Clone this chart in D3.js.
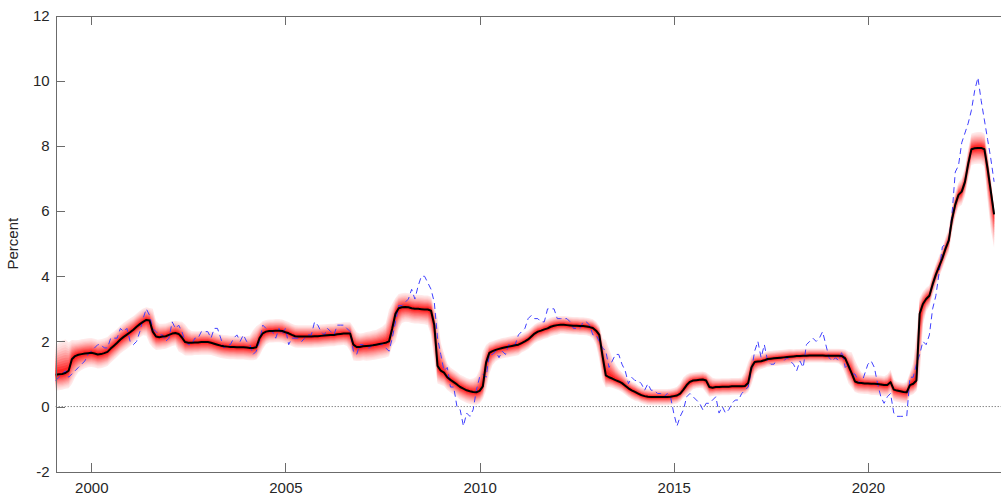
<!DOCTYPE html>
<html>
<head>
<meta charset="utf-8">
<script src="https://cdn.jsdelivr.net/npm/d3@7"></script>
<style>
  body { margin: 0; background: #fff; }
  .chart text { font-family: "Liberation Sans", Arial, sans-serif; fill: #262626; }
</style>
</head>
<body>
<div class="chart"></div>
<script>
// monthly data, Jan 1999 .. Mar 2023 (points sit at month end)
const startYear = 1999

const xTicks = [2000, 2005, 2010, 2015, 2020]
const yTicks = [-2, 0, 2, 4, 6, 8, 10, 12]

// observed inflation (blue dashed)
const actual = [
  0.8, 0.9, 1.0, 1.1, 0.9, 1.0, 1.1, 1.2, 1.3, 1.4, 1.6, 1.7,
  1.8, 1.9, 1.9, 1.8, 1.8, 2.1, 2.1, 2.1, 2.4, 2.3, 2.4, 2.0,
  1.9, 2.0, 2.3, 2.7, 3.0, 2.8, 2.4, 2.3, 2.2, 2.2, 2.0, 2.1,
  2.6, 2.4, 2.5, 2.3, 2.0, 1.9, 1.9, 2.1, 2.1, 2.3, 2.3, 2.3,
  2.1, 2.4, 2.4, 2.1, 1.8, 1.9, 1.9, 2.1, 2.2, 2.0, 2.2, 2.0,
  1.9, 1.6, 1.7, 2.0, 2.5, 2.4, 2.3, 2.3, 2.1, 2.4, 2.2, 2.4,
  1.9, 2.1, 2.1, 2.1, 2.0, 2.1, 2.2, 2.2, 2.6, 2.5, 2.3, 2.2,
  2.4, 2.3, 2.2, 2.5, 2.5, 2.5, 2.4, 2.3, 1.7, 1.6, 1.9, 1.9,
  1.8, 1.8, 1.9, 1.9, 1.9, 1.9, 1.8, 1.7, 2.1, 2.6, 3.1, 3.1,
  3.2, 3.3, 3.6, 3.3, 3.7, 4.0, 4.0, 3.8, 3.6, 3.2, 2.1, 1.6,
  1.1, 1.2, 0.6, 0.6, 0.0, -0.1, -0.6, -0.2, -0.3, -0.1, 0.5, 0.9,
  1.0, 0.9, 1.6, 1.6, 1.7, 1.5, 1.7, 1.6, 1.9, 1.9, 1.9, 2.2,
  2.3, 2.4, 2.7, 2.8, 2.7, 2.7, 2.6, 2.6, 3.0, 3.0, 3.0, 2.7,
  2.7, 2.7, 2.7, 2.6, 2.4, 2.4, 2.4, 2.6, 2.6, 2.5, 2.2, 2.2,
  2.0, 1.8, 1.7, 1.2, 1.4, 1.6, 1.6, 1.3, 1.1, 0.7, 0.9, 0.8,
  0.8, 0.7, 0.5, 0.7, 0.5, 0.5, 0.4, 0.4, 0.3, 0.4, 0.3, -0.2,
  -0.6, -0.3, -0.1, 0.3, 0.4, 0.3, 0.2, 0.1, -0.1, 0.1, 0.1, 0.2,
  0.3, -0.2, 0.0, -0.2, -0.1, 0.1, 0.2, 0.2, 0.4, 0.5, 0.6, 1.1,
  1.7, 2.0, 1.5, 1.9, 1.4, 1.3, 1.3, 1.5, 1.5, 1.4, 1.5, 1.4,
  1.3, 1.1, 1.4, 1.2, 1.9, 2.0, 2.1, 2.0, 2.1, 2.3, 1.9, 1.5,
  1.4, 1.5, 1.4, 1.7, 1.2, 1.3, 1.0, 1.0, 0.8, 0.7, 1.0, 1.3,
  1.4, 1.2, 0.7, 0.3, 0.1, 0.3, 0.4, -0.2, -0.3, -0.3, -0.3, -0.3,
  0.9, 0.9, 1.3, 1.6, 2.0, 1.9, 2.2, 3.0, 3.4, 4.1, 4.9, 5.0,
  5.1, 5.9, 7.2, 7.4, 8.1, 8.4, 8.7, 9.1, 9.7, 10.1, 9.4, 8.8,
  8.2, 7.6, 6.9
]

// median estimate (black line)
const median = [
  0.98, 0.99, 1.0, 1.03, 1.1, 1.45, 1.55, 1.59, 1.61, 1.63, 1.64, 1.65,
  1.63, 1.6, 1.61, 1.64, 1.68, 1.78, 1.87, 1.96, 2.06, 2.14, 2.21, 2.28,
  2.36, 2.45, 2.53, 2.6, 2.66, 2.64, 2.3, 2.15, 2.13, 2.15, 2.16, 2.2,
  2.24, 2.26, 2.23, 2.12, 1.98, 1.96, 1.96, 1.97, 1.97, 1.98, 1.98, 1.98,
  1.96, 1.93, 1.9, 1.87, 1.85, 1.84, 1.83, 1.83, 1.82, 1.82, 1.82, 1.81,
  1.8, 1.8, 1.82, 2.1, 2.25, 2.3, 2.32, 2.32, 2.33, 2.33, 2.32, 2.28,
  2.25, 2.2, 2.16, 2.15, 2.15, 2.15, 2.15, 2.15, 2.16, 2.16, 2.17, 2.18,
  2.19, 2.2, 2.2, 2.22, 2.23, 2.24, 2.24, 2.24, 1.9, 1.83, 1.83, 1.85,
  1.86, 1.87, 1.88, 1.9, 1.92, 1.94, 1.96, 2.0, 2.4, 2.85, 3.02, 3.05,
  3.06, 3.05, 3.02, 3.0, 3.0, 2.99, 2.98, 2.98, 2.94, 2.5, 1.25, 1.1,
  1.04, 0.9, 0.82, 0.75, 0.68, 0.6, 0.55, 0.5, 0.47, 0.45, 0.44, 0.48,
  0.62, 1.35, 1.65, 1.7, 1.74, 1.77, 1.8, 1.82, 1.84, 1.86, 1.88, 1.9,
  1.95, 2.0, 2.06, 2.15, 2.24, 2.3, 2.33, 2.37, 2.4, 2.45, 2.48, 2.5,
  2.51, 2.51, 2.5, 2.49, 2.48, 2.48, 2.47, 2.47, 2.46, 2.44, 2.41, 2.33,
  2.2, 1.55, 0.96, 0.9, 0.86, 0.81, 0.77, 0.72, 0.64, 0.56, 0.5, 0.45,
  0.4, 0.35, 0.32, 0.3, 0.29, 0.29, 0.29, 0.29, 0.29, 0.29, 0.3, 0.32,
  0.34, 0.4, 0.52, 0.66, 0.76, 0.8, 0.81, 0.82, 0.83, 0.8, 0.6, 0.58,
  0.6, 0.6, 0.61, 0.61, 0.61, 0.62, 0.62, 0.62, 0.62, 0.63, 0.72, 1.2,
  1.37, 1.38, 1.39, 1.42, 1.46, 1.47, 1.48, 1.49, 1.5, 1.51, 1.52, 1.53,
  1.54, 1.55, 1.55, 1.56, 1.56, 1.57, 1.57, 1.57, 1.57, 1.57, 1.56, 1.56,
  1.56, 1.56, 1.56, 1.55, 1.48, 1.25, 1.02, 0.77, 0.73, 0.72, 0.71, 0.71,
  0.7, 0.7, 0.69, 0.68, 0.66, 0.66, 0.75, 0.52, 0.49, 0.47, 0.45, 0.44,
  0.66, 0.7, 0.8, 2.85, 3.15, 3.3, 3.4, 3.75, 4.05, 4.3, 4.55, 4.85,
  5.1, 5.75, 6.2, 6.5, 6.6, 6.9, 7.45, 7.9, 7.93, 7.94, 7.94, 7.9,
  7.3, 6.6, 5.9
]

// outer band distance above / below the median
const spreadUp = [
  0.85, 0.9, 0.95, 0.95, 0.8, 0.55, 0.45, 0.42, 0.42, 0.42, 0.42, 0.42,
  0.42, 0.42, 0.42, 0.42, 0.42, 0.42, 0.4, 0.4, 0.4, 0.4, 0.4, 0.4,
  0.38, 0.38, 0.38, 0.38, 0.36, 0.36, 0.65, 0.45, 0.38, 0.36, 0.36, 0.36,
  0.35, 0.35, 0.35, 0.45, 0.5, 0.4, 0.33, 0.32, 0.32, 0.32, 0.32, 0.32,
  0.32, 0.32, 0.32, 0.32, 0.32, 0.32, 0.32, 0.32, 0.32, 0.32, 0.32, 0.32,
  0.35, 0.5, 0.6, 0.4, 0.35, 0.33, 0.33, 0.33, 0.33, 0.33, 0.33, 0.33,
  0.32, 0.32, 0.32, 0.32, 0.32, 0.32, 0.32, 0.32, 0.32, 0.32, 0.32, 0.32,
  0.32, 0.32, 0.32, 0.32, 0.32, 0.32, 0.32, 0.32, 0.5, 0.42, 0.38, 0.38,
  0.4, 0.4, 0.42, 0.42, 0.45, 0.48, 0.55, 0.9, 0.7, 0.45, 0.4, 0.4,
  0.4, 0.4, 0.4, 0.4, 0.4, 0.4, 0.4, 0.4, 0.4, 0.5, 1.4, 0.8,
  0.55, 0.4, 0.35, 0.35, 0.35, 0.35, 0.35, 0.35, 0.35, 0.38, 0.45, 0.6,
  1.0, 0.5, 0.3, 0.28, 0.28, 0.28, 0.28, 0.28, 0.28, 0.28, 0.28, 0.28,
  0.26, 0.26, 0.26, 0.26, 0.26, 0.26, 0.26, 0.26, 0.26, 0.26, 0.26, 0.26,
  0.25, 0.25, 0.25, 0.25, 0.25, 0.25, 0.25, 0.25, 0.25, 0.25, 0.25, 0.25,
  0.25, 0.5, 1.0, 0.8, 0.6, 0.45, 0.35, 0.3, 0.28, 0.26, 0.25, 0.25,
  0.23, 0.23, 0.23, 0.23, 0.23, 0.23, 0.23, 0.23, 0.23, 0.23, 0.23, 0.23,
  0.25, 0.3, 0.35, 0.3, 0.25, 0.23, 0.23, 0.23, 0.23, 0.23, 0.35, 0.28,
  0.24, 0.24, 0.24, 0.24, 0.24, 0.24, 0.24, 0.24, 0.25, 0.4, 0.6, 0.35,
  0.22, 0.22, 0.22, 0.22, 0.22, 0.22, 0.22, 0.22, 0.22, 0.22, 0.22, 0.22,
  0.2, 0.2, 0.2, 0.2, 0.2, 0.2, 0.2, 0.2, 0.2, 0.2, 0.2, 0.2,
  0.2, 0.2, 0.2, 0.2, 0.25, 0.4, 0.6, 0.6, 0.45, 0.3, 0.26, 0.25,
  0.25, 0.25, 0.25, 0.25, 0.25, 0.3, 0.35, 0.28, 0.25, 0.25, 0.25, 0.3,
  0.35, 0.6, 1.3, 0.45, 0.35, 0.32, 0.3, 0.3, 0.3, 0.3, 0.3, 0.32,
  0.33, 0.35, 0.35, 0.35, 0.38, 0.4, 0.42, 0.45, 0.45, 0.45, 0.45, 0.45,
  0.45, 0.35, 0.2
]

const spreadDown = [
  0.45, 0.45, 0.45, 0.45, 0.5, 0.7, 0.6, 0.5, 0.45, 0.42, 0.4, 0.4,
  0.4, 0.4, 0.4, 0.4, 0.4, 0.4, 0.4, 0.4, 0.4, 0.4, 0.4, 0.4,
  0.38, 0.38, 0.38, 0.38, 0.45, 0.65, 0.45, 0.38, 0.36, 0.36, 0.36, 0.36,
  0.35, 0.35, 0.5, 0.45, 0.38, 0.36, 0.36, 0.36, 0.36, 0.36, 0.36, 0.36,
  0.35, 0.35, 0.35, 0.35, 0.35, 0.35, 0.35, 0.35, 0.35, 0.35, 0.35, 0.35,
  0.35, 0.35, 0.35, 0.5, 0.45, 0.36, 0.33, 0.33, 0.33, 0.33, 0.33, 0.33,
  0.32, 0.32, 0.32, 0.32, 0.32, 0.32, 0.32, 0.32, 0.32, 0.32, 0.32, 0.32,
  0.32, 0.32, 0.32, 0.32, 0.32, 0.32, 0.35, 0.5, 0.45, 0.4, 0.4, 0.4,
  0.42, 0.42, 0.42, 0.42, 0.42, 0.42, 0.42, 0.42, 0.5, 0.8, 0.6, 0.45,
  0.42, 0.42, 0.42, 0.42, 0.42, 0.42, 0.42, 0.45, 0.7, 1.0, 0.5, 0.4,
  0.38, 0.36, 0.36, 0.36, 0.36, 0.36, 0.36, 0.36, 0.36, 0.36, 0.36, 0.36,
  0.36, 0.8, 0.6, 0.4, 0.32, 0.3, 0.3, 0.3, 0.3, 0.3, 0.3, 0.3,
  0.27, 0.27, 0.27, 0.27, 0.27, 0.27, 0.27, 0.27, 0.27, 0.27, 0.27, 0.27,
  0.25, 0.25, 0.25, 0.25, 0.25, 0.25, 0.25, 0.25, 0.25, 0.26, 0.3, 0.4,
  0.7, 0.7, 0.35, 0.28, 0.26, 0.25, 0.25, 0.25, 0.25, 0.25, 0.25, 0.25,
  0.23, 0.23, 0.23, 0.23, 0.23, 0.23, 0.23, 0.23, 0.23, 0.23, 0.23, 0.23,
  0.23, 0.23, 0.23, 0.3, 0.3, 0.25, 0.23, 0.23, 0.25, 0.35, 0.28, 0.24,
  0.24, 0.24, 0.24, 0.24, 0.24, 0.24, 0.24, 0.24, 0.24, 0.24, 0.25, 0.5,
  0.35, 0.25, 0.22, 0.22, 0.22, 0.22, 0.22, 0.22, 0.22, 0.22, 0.22, 0.22,
  0.2, 0.2, 0.2, 0.2, 0.2, 0.2, 0.2, 0.2, 0.2, 0.2, 0.2, 0.2,
  0.2, 0.2, 0.22, 0.3, 0.45, 0.5, 0.4, 0.3, 0.3, 0.3, 0.3, 0.3,
  0.32, 0.32, 0.32, 0.32, 0.32, 0.32, 0.32, 0.32, 0.32, 0.32, 0.32, 0.32,
  0.3, 0.3, 0.3, 1.8, 0.6, 0.35, 0.3, 0.3, 0.3, 0.3, 0.3, 0.32,
  0.33, 0.35, 0.35, 0.35, 0.38, 0.4, 0.42, 0.45, 0.45, 0.45, 0.45, 0.5,
  0.9, 1.1, 0.95
]

let outerWidth = 1001
let outerHeight = 498
let margin = {top: 15.7, bottom: 26.3, left: 55.7, right: -2.8}
let width = outerWidth - margin.left - margin.right
let height = outerHeight - margin.top - margin.bottom

let data = median.map((m, i) => ({
    t: startYear + (i + 1) / 12,
    med: m,
    obs: actual[i],
    up: spreadUp[i],
    down: spreadDown[i]
}))

let svg = d3.select(".chart")
    .append("svg")
    .attr("width", outerWidth)
    .attr("height", outerHeight)
    .append("g")
    .attr("transform", `translate(${margin.left}, ${margin.top})`)

// Scales
let xScale = d3.scaleLinear()
    .domain([startYear + 1 / 12, 2023.5])
    .range([0, width])

let yScale = d3.scaleLinear()
    .domain([-2, 12])
    .range([height, 0])

// Fan (outer layers first, redder towards the median)
let nLayers = 12
let fanColor = d3.interpolateRgb("#ffeaea", "#ff2626")
for (let k = 0; k < nLayers; k++) {
    let f = 1.08 - k / nLayers
    let area = d3.area()
        .x(d => xScale(d.t))
        .y0(d => yScale(d.med - d.down * f))
        .y1(d => yScale(d.med + d.up * f))
    svg.append("path")
        .datum(data)
        .attr("d", area)
        .attr("fill", fanColor(Math.pow(k / (nLayers - 1), 1.3)))
}

// Zero line
svg.append("line")
    .attr("x1", 0)
    .attr("x2", width)
    .attr("y1", yScale(0))
    .attr("y2", yScale(0))
    .attr("stroke", "#555")
    .attr("stroke-width", 1)
    .attr("stroke-dasharray", "1,2")

// Observed (blue dashed)
svg.append("path")
    .datum(data)
    .attr("d", d3.line().x(d => xScale(d.t)).y(d => yScale(d.obs)))
    .attr("fill", "none")
    .attr("stroke", "#3f3fff")
    .attr("stroke-width", 1)
    .attr("stroke-dasharray", "6,4")

// Median (black)
svg.append("path")
    .datum(data)
    .attr("d", d3.line().x(d => xScale(d.t)).y(d => yScale(d.med)))
    .attr("fill", "none")
    .attr("stroke", "#000")
    .attr("stroke-width", 2)
    .attr("stroke-linejoin", "round")

// Axes
const xAxis = d3.axisBottom(xScale)
    .tickValues(xTicks)
    .tickFormat(d => String(d))
    .tickSizeInner(-9)
    .tickSizeOuter(0)
    .tickPadding(11)

const xAxisTop = d3.axisTop(xScale)
    .tickValues(xTicks)
    .tickFormat("")
    .tickSizeInner(-9)
    .tickSizeOuter(0)

const yAxis = d3.axisLeft(yScale)
    .tickValues(yTicks)
    .tickFormat(d => String(d))
    .tickSizeInner(-9)
    .tickSizeOuter(0)
    .tickPadding(6)

svg.append("g")
    .attr("class", "axis x-axis")
    .attr("transform", `translate(0, ${height})`)
    .call(xAxis)

svg.append("g")
    .attr("class", "axis x-axis-top")
    .call(xAxisTop)

svg.append("g")
    .attr("class", "axis y-axis")
    .call(yAxis)

svg.selectAll(".axis path, .axis line")
    .attr("stroke", "#6b6b6b")
    .attr("stroke-width", 1)
    .attr("shape-rendering", "crispEdges")

svg.selectAll(".axis text")
    .attr("fill", "#262626")
    .style("font-size", "15px")
    .style("font-family", "'Liberation Sans', Arial, sans-serif")

// Axis label
svg.append("text")
    .attr("transform", `translate(${-38}, ${height / 2}) rotate(-90)`)
    .attr("text-anchor", "middle")
    .style("font-size", "15px")
    .text("Percent")
</script>
</body>
</html>
